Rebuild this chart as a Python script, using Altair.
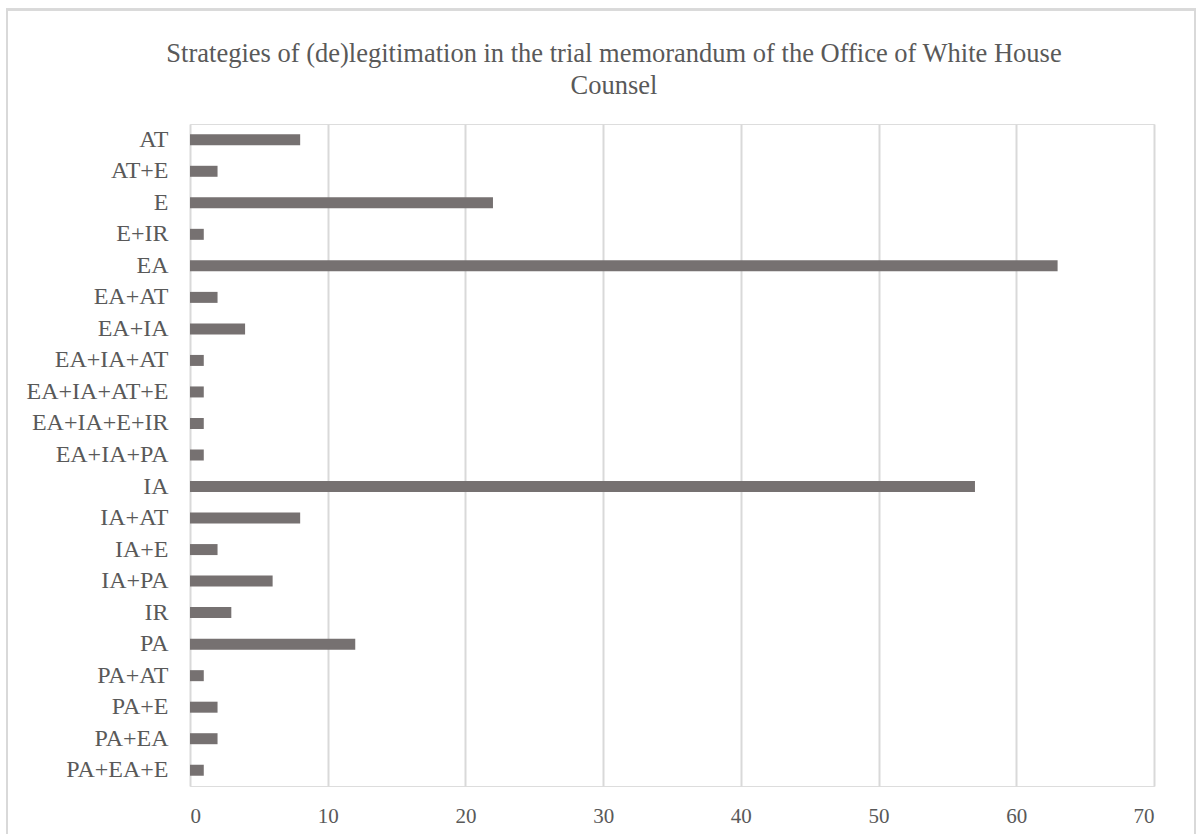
import altair as alt
import pandas as pd

categories = ["AT", "AT+E", "E", "E+IR", "EA", "EA+AT", "EA+IA", "EA+IA+AT",
              "EA+IA+AT+E", "EA+IA+E+IR", "EA+IA+PA", "IA", "IA+AT", "IA+E",
              "IA+PA", "IR", "PA", "PA+AT", "PA+E", "PA+EA", "PA+EA+E"]
counts = [8, 2, 22, 1, 63, 2, 4, 1, 1, 1, 1, 57, 8, 2, 6, 3, 12, 1, 2, 2, 1]
x_ticks = [0, 10, 20, 30, 40, 50, 60, 70]
title_lines = ["Strategies of (de)legitimation in the trial memorandum of the Office of White House",
               "Counsel"]

df = pd.DataFrame({"strategy": categories, "count": counts})

FONT = "Liberation Serif"
TXT = "#595959"

bars = alt.Chart(df).mark_bar(color="#767171", size=11).encode(
    x=alt.X("count:Q",
            scale=alt.Scale(domain=[0, 70], nice=False),
            axis=alt.Axis(values=x_ticks, title=None, domain=False, ticks=False,
                          grid=True, gridColor="#d9d9d9", gridWidth=2,
                          labelFont=FONT, labelFontSize=21, labelColor=TXT,
                          labelPadding=19)),
    y=alt.Y("strategy:N", sort=categories,
            scale=alt.Scale(paddingInner=0.65, paddingOuter=0.325),
            axis=alt.Axis(title=None, domain=False, ticks=False, grid=False,
                          labelFont=FONT, labelFontSize=24, labelColor=TXT,
                          labelPadding=22)),
)

frame = alt.Chart(df).mark_rect(fill=None, stroke="#d9d9d9", strokeWidth=2).encode(
    x=alt.value(-183), x2=alt.value(1005), y=alt.value(-114.5), y2=alt.value(720)
)

t1 = alt.Chart(pd.DataFrame({"t": [title_lines[0]]})).mark_text(
    font=FONT, fontSize=26.5, color=TXT, align="center", baseline="alphabetic"
).encode(text="t:N", x=alt.value(424), y=alt.value(-62))

t2 = alt.Chart(pd.DataFrame({"t": [title_lines[1]]})).mark_text(
    font=FONT, fontSize=26.5, color=TXT, align="center", baseline="alphabetic"
).encode(text="t:N", x=alt.value(424), y=alt.value(-30))

chart = alt.layer(frame, bars, t1, t2).properties(
    width=964, height=662,
    autosize=alt.AutoSizeParams(type="none"),
    padding={"left": 190, "top": 124, "right": 42, "bottom": 48},
).configure_view(stroke=None).configure(background="white")

chart.save("out.html", embed_options={"renderer": "svg", "actions": False})
